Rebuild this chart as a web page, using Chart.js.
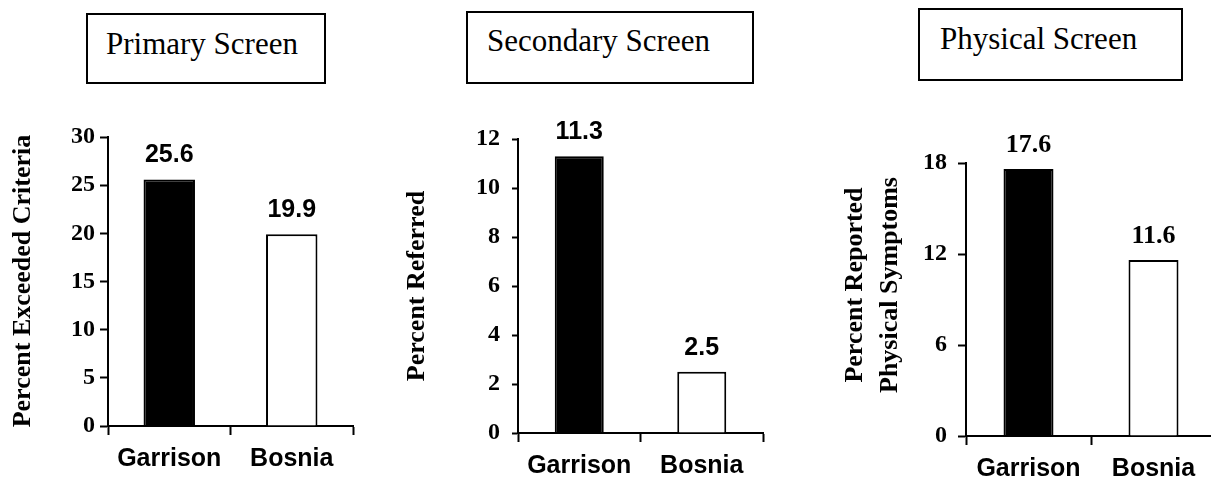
<!DOCTYPE html>
<html><head><meta charset="utf-8">
<script src="https://cdn.jsdelivr.net/npm/chart.js@4.4.0/dist/chart.umd.min.js"></script>
<style>
html,body{margin:0;padding:0;background:#fff;overflow:hidden;width:1211px;height:484px;position:relative;}
.wrap{position:absolute;top:0;}
.box{position:absolute;border:2px solid #000;box-sizing:border-box;background:#fff;}
.ttl{position:absolute;font-family:"Liberation Serif","Times New Roman",serif;font-size:31px;line-height:31px;white-space:nowrap;color:#000;}
</style></head><body>
<div class="box" style="left:86px;top:13px;width:240px;height:71px"></div>
<div class="ttl" style="left:106px;top:28px">Primary Screen</div>
<div class="box" style="left:466px;top:11px;width:288px;height:73px"></div>
<div class="ttl" style="left:487px;top:25px">Secondary Screen</div>
<div class="box" style="left:918px;top:8px;width:265px;height:73px"></div>
<div class="ttl" style="left:940px;top:23px">Physical Screen</div>

<div class="wrap" style="left:0px"><canvas id="c1" width="400" height="484"></canvas></div>
<div class="wrap" style="left:400px"><canvas id="c2" width="400" height="484"></canvas></div>
<div class="wrap" style="left:800px"><canvas id="c3" width="430" height="484"></canvas></div>

<script>
// ---- data ----
const categories = ['Garrison', 'Bosnia'];
const primaryValues = [25.6, 19.9];
const secondaryValues = [11.3, 2.5];
const physicalValues = [17.6, 11.6];
const primaryTicks = [0, 5, 10, 15, 20, 25, 30];
const secondaryTicks = [0, 2, 4, 6, 8, 10, 12];
const physicalTicks = [0, 6, 12, 18];
const primaryYTitle = ['Percent Exceeded Criteria'];
const secondaryYTitle = ['Percent Referred'];
const physicalYTitle = ['Percent Reported', 'Physical Symptoms'];

const valueLabels = {
  id: 'valueLabels',
  afterDatasetsDraw(chart, args, o) {
    const ctx = chart.ctx;
    const meta = chart.getDatasetMeta(0);
    const data = chart.data.datasets[0].data;
    ctx.save();
    ctx.font = o.font;
    ctx.fillStyle = '#000';
    ctx.textAlign = 'center';
    ctx.textBaseline = 'alphabetic';
    meta.data.forEach((bar, i) => {
      ctx.fillText(data[i].toFixed(1), bar.x, bar.y - o.offset);
    });
    ctx.restore();
  }
};

const yTitle = {
  id: 'yTitle',
  afterDraw(chart, args, o) {
    const ctx = chart.ctx;
    ctx.save();
    ctx.font = o.font;
    ctx.fillStyle = '#000';
    ctx.textAlign = 'center';
    ctx.textBaseline = 'middle';
    o.lines.forEach((line, i) => {
      ctx.save();
      ctx.translate(o.x + i * o.gap, o.y);
      ctx.rotate(-Math.PI / 2);
      ctx.fillText(line, 0, 0);
      ctx.restore();
    });
    ctx.restore();
  }
};

function makeChart(id, values, ticks, titleLines, o) {
  return new Chart(document.getElementById(id), {
    type: 'bar',
    data: {
      labels: categories,
      datasets: [{
        data: values,
        backgroundColor: ['#000', '#fff'],
        borderColor: '#000',
        borderWidth: 2,
        borderSkipped: 'bottom',
        barPercentage: o.bar,
        categoryPercentage: 1
      }]
    },
    options: {
      responsive: false,
      animation: false,
      events: [],
      layout: { padding: { left: 0, right: o.padRight, top: o.top, bottom: 0 } },
      plugins: {
        legend: { display: false },
        tooltip: { enabled: false },
        title: { display: false },
        valueLabels: { font: o.valueFont, offset: 17 },
        yTitle: { lines: titleLines, x: o.tx, y: o.ty, gap: 35, font: 'bold 26px "Liberation Serif", "Times New Roman", serif' }
      },
      scales: {
        x: {
          grid: { display: true, drawOnChartArea: false, drawTicks: true, tickLength: 9, tickWidth: 2, tickColor: '#000', offset: true },
          border: { display: true, color: '#000', width: 2 },
          ticks: { color: '#000', font: { family: '"Liberation Sans", Arial, sans-serif', size: 25, weight: 'bold' }, padding: o.xPad, maxRotation: 0, autoSkip: false },
          afterFit: s => { s.height = o.xH; }
        },
        y: {
          min: 0,
          max: ticks[ticks.length - 1],
          afterBuildTicks: s => { s.ticks = ticks.map(v => ({ value: v })); },
          grid: { display: true, drawOnChartArea: false, drawTicks: true, tickLength: o.tl, tickWidth: 2, tickColor: '#000' },
          border: { display: true, color: '#000', width: 2 },
          ticks: { color: '#000', font: { family: '"Liberation Serif", "Times New Roman", serif', size: 24, weight: 'bold' }, padding: o.yPad },
          afterFit: s => { s.width = o.yW; }
        }
      }
    },
    plugins: [valueLabels, yTitle]
  });
}

const sansVal = 'bold 25px "Liberation Sans", Arial, sans-serif';
const serifVal = 'bold 26px "Liberation Serif", "Times New Roman", serif';

makeChart('c1', primaryValues, primaryTicks, primaryYTitle,
  { bar: 0.42, padRight: 47, top: 137, xH: 58, yW: 108, tl: 8, yPad: 5, xPad: 9, tx: 23, ty: 281, valueFont: sansVal });
makeChart('c2', secondaryValues, secondaryTicks, secondaryYTitle,
  { bar: 0.40, padRight: 37, top: 139, xH: 51, yW: 118, tl: 6, yPad: 12, xPad: 9, tx: 17, ty: 286, valueFont: sansVal });
makeChart('c3', physicalValues, physicalTicks, physicalYTitle,
  { bar: 0.40, padRight: 14, top: 163, xH: 48, yW: 166, tl: 8, yPad: 11, xPad: 9, tx: 55, ty: 285, valueFont: serifVal });
</script>
</body></html>
